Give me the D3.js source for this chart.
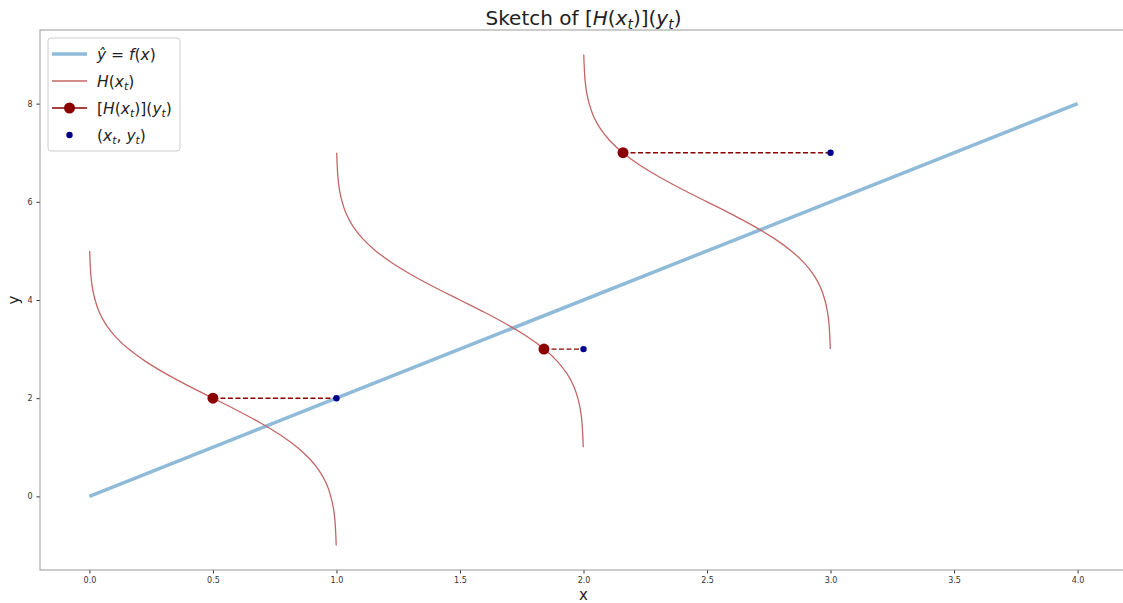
<!DOCTYPE html>
<html lang="en">
<head>
  <meta charset="utf-8">
  <title>Sketch of [H(x_t)](y_t)</title>
  <script src="https://cdn.jsdelivr.net/npm/d3@7"></script>
  <style>
    body { margin: 0; background: #fff; overflow: hidden; }
    text { font-family: "DejaVu Sans", sans-serif; }
  </style>
</head>
<body>
  <svg class="chart"></svg>
</body>
<script>
  // 1. Data
  var fitX = [0, 4],
      fitY = [0, 8];

  // the three H(x_t) curves
  var curve1Y = [-1, -0.75, -0.5, -0.25, 0, 0.25, 0.5, 0.75, 1, 1.25, 1.5, 1.75, 2, 2.25, 2.5, 2.75, 3, 3.25, 3.5, 3.75, 4, 4.25, 4.5, 4.75, 5];
  var curve1X = [0.999, 0.997, 0.994, 0.988, 0.977, 0.960, 0.933, 0.894, 0.841, 0.773, 0.691, 0.599, 0.5, 0.401, 0.309, 0.227, 0.159, 0.106, 0.067, 0.040, 0.023, 0.012, 0.006, 0.003, 0.001];
  var curve2Y = [1, 1.25, 1.5, 1.75, 2, 2.25, 2.5, 2.75, 3, 3.25, 3.5, 3.75, 4, 4.25, 4.5, 4.75, 5, 5.25, 5.5, 5.75, 6, 6.25, 6.5, 6.75, 7];
  var curve2X = [1.999, 1.997, 1.994, 1.988, 1.977, 1.960, 1.933, 1.894, 1.841, 1.773, 1.691, 1.599, 1.5, 1.401, 1.309, 1.227, 1.159, 1.106, 1.067, 1.040, 1.023, 1.012, 1.006, 1.003, 1.001];
  var curve3Y = [3, 3.25, 3.5, 3.75, 4, 4.25, 4.5, 4.75, 5, 5.25, 5.5, 5.75, 6, 6.25, 6.5, 6.75, 7, 7.25, 7.5, 7.75, 8, 8.25, 8.5, 8.75, 9];
  var curve3X = [2.999, 2.997, 2.994, 2.988, 2.977, 2.960, 2.933, 2.894, 2.841, 2.773, 2.691, 2.599, 2.5, 2.401, 2.309, 2.227, 2.159, 2.106, 2.067, 2.040, 2.023, 2.012, 2.006, 2.003, 2.001];

  // observed points (x_t, y_t) and where H(x_t) meets y_t
  var obsX = [1, 2, 3],
      obsY = [2, 3, 7],
      hitX = [0.5, 1.84, 2.16];

  var xTicks = [0, 0.5, 1, 1.5, 2, 2.5, 3, 3.5, 4],
      yTicks = [0, 2, 4, 6, 8];

  // 2. Sizes
  var W = 1123, H = 603,
      padL = 40, padR = 1127, padT = 30, padB = 570;

  var curves = [[curve1X, curve1Y], [curve2X, curve2Y], [curve3X, curve3Y]]
    .map(c => c[0].map((v, i) => [v, c[1][i]]));

  // 3. Scales
  var x = d3.scaleLinear().domain([-0.2, 4.2]).range([padL, padR]);
  var y = d3.scaleLinear().domain([-1.5, 9.5]).range([padB, padT]);

  var svg = d3.select(".chart").attr("width", W).attr("height", H).style("display", "block");

  svg.append("clipPath").attr("id", "plot")
    .append("rect").attr("x", padL).attr("y", padT)
    .attr("width", padR - padL).attr("height", padB - padT);

  var plot = svg.append("g").attr("clip-path", "url(#plot)");

  // 4. Fit line
  plot.append("path")
    .datum(fitX.map((v, i) => [v, fitY[i]]))
    .attr("d", d3.line().x(d => x(d[0])).y(d => y(d[1])))
    .style("fill", "none")
    .style("stroke", "#8fbbd9")
    .style("stroke-width", 3.5);

  // 5. H(x_t) curves
  var curveLine = d3.line().x(d => x(d[0])).y(d => y(d[1])).curve(d3.curveMonotoneY);
  plot.selectAll(".hcurve")
    .data(curves)
    .enter().append("path")
    .attr("class", "hcurve")
    .attr("d", curveLine)
    .style("fill", "none")
    .style("stroke", "#c26666")
    .style("stroke-width", 1.3);

  // 6. dashed links, markers
  var idx = d3.range(obsX.length);
  plot.selectAll(".link")
    .data(idx)
    .enter().append("line")
    .attr("x1", i => x(hitX[i])).attr("x2", i => x(obsX[i]))
    .attr("y1", i => y(obsY[i])).attr("y2", i => y(obsY[i]))
    .style("stroke", "#8b0000")
    .style("stroke-width", 1.4)
    .style("stroke-dasharray", "5,2.5");

  plot.selectAll(".hit")
    .data(idx)
    .enter().append("circle")
    .attr("cx", i => x(hitX[i])).attr("cy", i => y(obsY[i]))
    .attr("r", 5.5)
    .style("fill", "#8b0000");

  plot.selectAll(".obs")
    .data(idx)
    .enter().append("circle")
    .attr("cx", i => x(obsX[i])).attr("cy", i => y(obsY[i]))
    .attr("r", 3.2)
    .style("fill", "#00008b");

  // 7. Axes
  var xAxis = svg.append("g")
    .attr("transform", "translate(0," + padB + ")")
    .call(d3.axisBottom(x).tickValues(xTicks).tickFormat(d3.format(".1f")).tickSize(3.5).tickPadding(4));
  var yAxis = svg.append("g")
    .attr("transform", "translate(" + padL + ",0)")
    .call(d3.axisLeft(y).tickValues(yTicks).tickFormat(d3.format("d")).tickSize(3.5).tickPadding(4));

  [xAxis, yAxis].forEach(function(a){
    a.select(".domain").remove();
    a.selectAll("line").style("stroke", "#333");
    a.selectAll("text").style("font-size", "8px").style("fill", "#333").style("font-family", "DejaVu Sans");
  });

  // frame
  svg.append("rect")
    .attr("x", padL).attr("y", padT)
    .attr("width", padR - padL).attr("height", padB - padT)
    .style("fill", "none")
    .style("stroke", "#999")
    .style("stroke-width", 1);

  // 8. Labels
  svg.append("text")
    .attr("x", (padL + padR) / 2).attr("y", 600)
    .style("text-anchor", "middle").style("font-size", "15px").style("fill", "#222")
    .text("x");
  svg.append("text")
    .attr("transform", "translate(19," + (padT + padB) / 2 + ") rotate(-90)")
    .style("text-anchor", "middle").style("font-size", "15px").style("fill", "#222")
    .text("y");

  // mathtext helper: parts = [text, italic, sub]
  function mathText(sel, parts) {
    parts.forEach(function(p){
      var t = sel.append("tspan").text(p[0]);
      if (p[1]) t.style("font-style", "italic");
      if (p[2]) t.attr("baseline-shift", "-25%").style("font-size", "70%");
    });
  }

  var title = svg.append("text")
    .attr("x", (padL + padR) / 2).attr("y", 25)
    .style("text-anchor", "middle").style("font-size", "20px").style("fill", "#222");
  mathText(title, [["Sketch of ["], ["H", 1], ["("], ["x", 1], ["t", 1, 1], [")](" ], ["y", 1], ["t", 1, 1], [")"]]);

  // 9. Legend
  var lg = svg.append("g");
  lg.append("rect")
    .attr("x", 48).attr("y", 38).attr("width", 132).attr("height", 113)
    .attr("rx", 3)
    .style("fill", "#fff").style("fill-opacity", 0.8)
    .style("stroke", "#ccc");

  var rows = [54, 81, 108, 135];
  lg.append("line").attr("x1", 52).attr("x2", 87).attr("y1", rows[0]).attr("y2", rows[0])
    .style("stroke", "#8fbbd9").style("stroke-width", 3.5);
  lg.append("line").attr("x1", 52).attr("x2", 87).attr("y1", rows[1]).attr("y2", rows[1])
    .style("stroke", "#c26666").style("stroke-width", 1.3);
  lg.append("line").attr("x1", 52).attr("x2", 87).attr("y1", rows[2]).attr("y2", rows[2])
    .style("stroke", "#8b0000").style("stroke-width", 1.4);
  lg.append("circle").attr("cx", 69.5).attr("cy", rows[2]).attr("r", 5.5).style("fill", "#8b0000");
  lg.append("circle").attr("cx", 69.5).attr("cy", rows[3]).attr("r", 3.2).style("fill", "#00008b");

  var labels = [
    [["\u0177", 1], [" = "], ["f", 1], ["("], ["x", 1], [")"]],
    [["H", 1], ["("], ["x", 1], ["t", 1, 1], [")"]],
    [["["], ["H", 1], ["("], ["x", 1], ["t", 1, 1], [")]("], ["y", 1], ["t", 1, 1], [")"]],
    [["("], ["x", 1], ["t", 1, 1], [", "], ["y", 1], ["t", 1, 1], [")"]]
  ];
  labels.forEach(function(parts, i){
    var t = lg.append("text")
      .attr("x", 97).attr("y", rows[i] + 5.5)
      .style("font-size", "15.5px").style("fill", "#222");
    mathText(t, parts);
  });
</script>
</html>
